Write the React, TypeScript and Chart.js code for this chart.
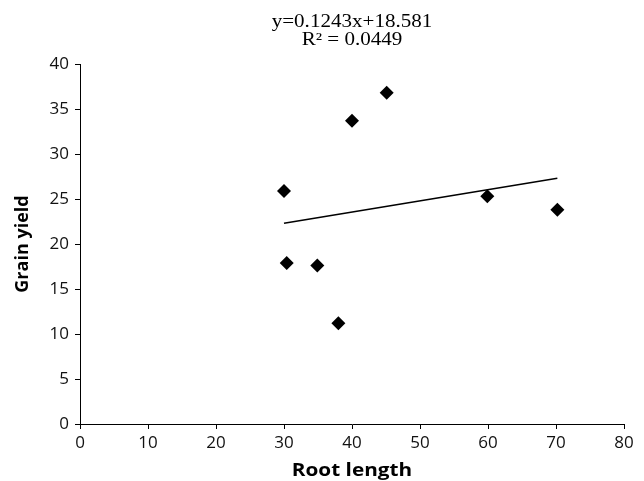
import React, { useEffect, useRef } from "react";
import { Chart, registerables } from "chart.js";

Chart.register(...registerables);

const rootLength = [30.0, 40.0, 45.1, 30.4, 34.9, 38.0, 59.9, 70.2];
const grainYield = [25.9, 33.7, 36.8, 17.9, 17.6, 11.2, 25.3, 23.8];
const trendX = [30.0, 70.2];
const trendY = [22.31, 27.31];
const titleLines = ["y=0.1243x+18.581", "R\u00B2 = 0.0449"];
const xTitle = "Root length";
const yTitle = "Grain yield";

const sansFont = "'Open Sans', 'Liberation Sans', sans-serif";

const textPlugin = {
  id: "stretchedTexts",
  afterDraw(chart: any) {
    const { ctx, chartArea } = chart;
    const cx = (chartArea.left + chartArea.right) / 2;
    ctx.save();
    ctx.fillStyle = "#000";
    ctx.textAlign = "center";
    ctx.textBaseline = "alphabetic";
    // chart title (serif, slightly wide)
    ctx.save();
    ctx.translate(cx, 0);
    ctx.scale(1.17, 1);
    ctx.font = "18px 'Liberation Serif', 'DejaVu Serif', serif";
    ctx.fillText(titleLines[0], 0, 27);
    ctx.fillText(titleLines[1], 0, 45);
    ctx.restore();
    // x axis title
    ctx.save();
    ctx.translate(cx, 0);
    ctx.scale(1.22, 1);
    ctx.font = "bold 17px " + sansFont;
    ctx.fillText(xTitle, 0, 476);
    ctx.restore();
    ctx.restore();
  },
};

export default function App() {
  const ref = useRef<HTMLCanvasElement | null>(null);

  useEffect(() => {
    document.body.style.margin = "0";
    if (!ref.current) return;
    const points = rootLength.map((x, i) => ({ x, y: grainYield[i] }));
    const trend = trendX.map((x, i) => ({ x, y: trendY[i] }));
    const chart = new Chart(ref.current, {
      type: "scatter",
      data: {
        datasets: [
          {
            label: "data",
            data: points,
            pointStyle: "rectRot",
            pointRadius: 7,
            pointHoverRadius: 7,
            backgroundColor: "#000",
            borderColor: "#000",
            borderWidth: 0,
          },
          {
            type: "line",
            label: "trend",
            data: trend,
            borderColor: "#000",
            borderWidth: 1.5,
            pointRadius: 0,
            fill: false,
          } as any,
        ],
      },
      options: {
        animation: false,
        responsive: false,
        maintainAspectRatio: false,
        layout: { padding: { top: 64, right: 20, left: 0, bottom: 0 } },
        plugins: {
          legend: { display: false },
          tooltip: { enabled: false },
          title: { display: false },
        },
        scales: {
          x: {
            type: "linear",
            min: 0,
            max: 80,
            ticks: {
              stepSize: 10,
              color: "#111",
              padding: 4,
              font: { family: sansFont, size: 17 },
            },
            grid: {
              drawOnChartArea: false,
              drawTicks: true,
              tickLength: 5,
              color: "#000",
            },
            border: { color: "#000", width: 1 },
            title: { display: false, text: xTitle },
            afterFit(scale: any) {
              scale.height = 57;
            },
          },
          y: {
            type: "linear",
            min: 0,
            max: 40,
            ticks: {
              stepSize: 5,
              color: "#111",
              padding: 6,
              font: { family: sansFont, size: 17 },
            },
            grid: {
              drawOnChartArea: false,
              drawTicks: true,
              tickLength: 5,
              color: "#000",
            },
            border: { color: "#000", width: 1 },
            title: {
              display: true,
              text: yTitle,
              color: "#000",
              font: { family: sansFont, size: 18, weight: "bold" },
              padding: { top: 12, bottom: 0 },
            },
            afterFit(scale: any) {
              scale.width = 80;
            },
          },
        },
      },
      plugins: [textPlugin],
    });
    return () => chart.destroy();
  }, []);

  return (
    <div style={{ position: "absolute", left: 0, top: 0, width: 644, height: 481 }}>
      <canvas ref={ref} width={644} height={481} style={{ width: 644, height: 481 }} />
    </div>
  );
}
